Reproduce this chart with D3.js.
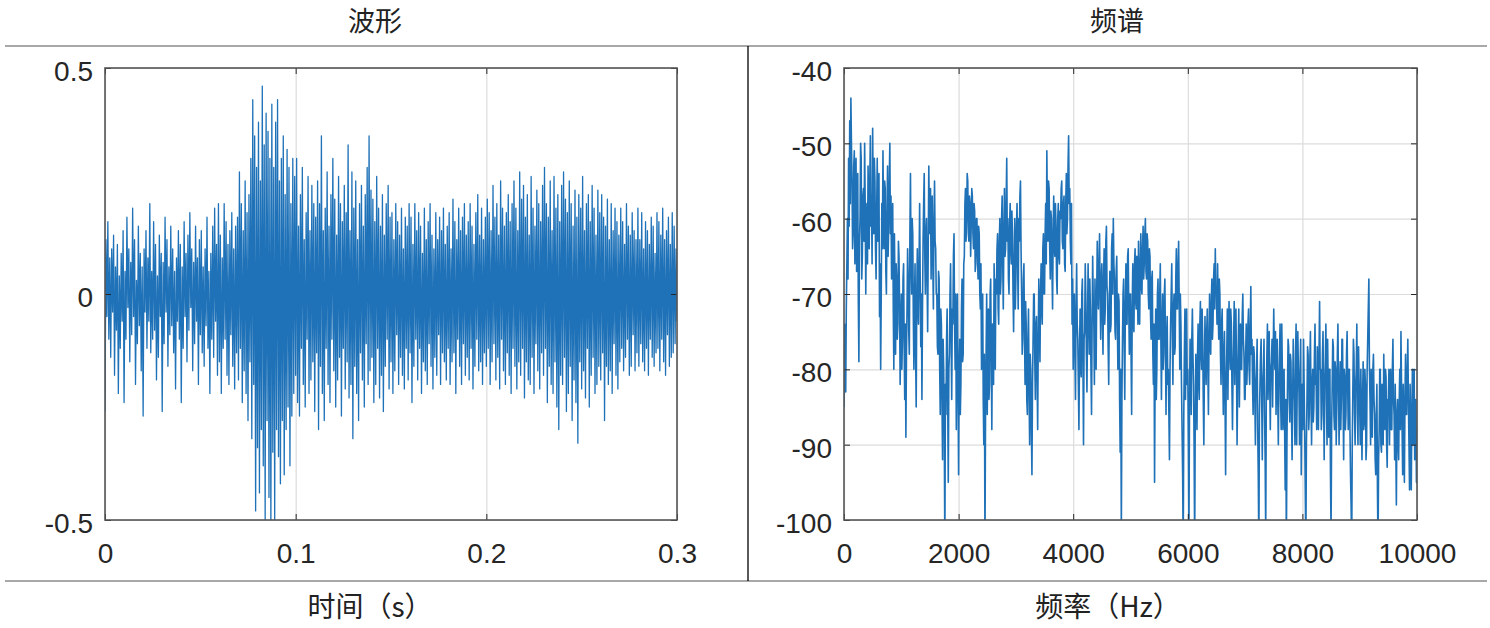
<!DOCTYPE html>
<html>
<head>
<meta charset="utf-8">
<script src="https://cdn.jsdelivr.net/npm/d3@7"></script>
<style>
  html, body { margin: 0; padding: 0; background: #fff; }
  svg { display: block; }
  .tick text { font-family: "Liberation Sans", Arial, sans-serif; }
</style>
</head>
<body>
<svg id="chart" width="1490" height="628"></svg>
<script>
// ---------------- DATA ----------------
const panelTitles = ["波形", "频谱"];
const axisLabels = ["时间（s）", "频率（Hz）"];

// waveform: amplitude samples evenly spaced from 0 to 0.3 s
const waveDuration = 0.3;
const waveValues = [
-.26,.12,-.05,.16,-.1,.08,-.14,.1,-.04,.13,-.18,.06,-.08,.11,-.22,.04,-.12,.09,-.06,.14,
-.24,.05,-.1,.17,-.03,.1,-.15,.07,-.09,.19,-.05,.12,-.2,.03,-.11,.15,-.07,.09,-.17,.06,
-.27,.1,-.04,.14,-.12,.08,-.06,.2,-.13,.05,-.1,.16,-.08,.11,-.19,.04,-.14,.13,-.05,.09,
-.26,.07,-.11,.17,-.04,.12,-.16,.06,-.09,.15,-.07,.1,-.13,.05,-.21,.08,-.06,.14,-.1,.11,
-.24,.06,-.12,.16,-.05,.09,-.15,.13,-.08,.18,-.03,.1,-.17,.07,-.11,.15,-.06,.08,-.2,.12,
-.09,.14,-.13,.06,-.16,.1,-.07,.17,-.12,.05,-.22,.09,-.1,.15,-.14,.19,-.06,.11,-.18,.2,
-.15,.13,-.22,.08,-.12,.2,-.1,.16,-.18,.11,-.2,.14,-.09,.18,-.16,.1,-.21,.15,-.13,.17,
-.19,.27,-.12,.2,-.24,.14,-.17,.25,-.22,.18,-.28,.22,-.15,.3,-.32,.43,-.2,.35,-.48,.28,
-.34,.38,-.44,.25,-.3,.46,-.38,.33,-.5,.4,-.28,.36,-.45,.3,-.52,.42,-.35,.28,-.5,.38,
-.3,.43,-.36,.25,-.42,.3,-.28,.35,-.4,.22,-.3,.32,-.25,.28,-.38,.2,-.27,.3,-.22,.26,
-.18,.3,-.24,.15,-.27,.22,-.12,.28,-.2,.12,-.25,.18,-.1,.26,-.22,.14,-.19,.24,-.15,.2,
-.26,.17,-.13,.25,-.3,.2,-.16,.35,-.22,.14,-.28,.19,-.12,.27,-.2,.15,-.24,.22,-.1,.3,
-.17,.21,-.25,.13,-.19,.26,-.14,.2,-.27,.16,-.12,.24,-.21,.18,-.15,.33,-.23,.14,-.2,.27,
-.32,.19,-.16,.25,-.22,.12,-.28,.2,-.13,.24,-.19,.15,-.25,.22,-.11,.28,-.2,.35,-.17,.23,
-.14,.21,-.24,.16,-.2,.26,-.12,.19,-.23,.15,-.18,.22,-.26,.13,-.16,.2,-.1,.24,-.21,.17,
-.15,.18,-.22,.12,-.17,.2,-.09,.16,-.2,.13,-.14,.19,-.18,.1,-.21,.17,-.12,.15,-.19,.2,
-.13,.17,-.24,.11,-.16,.2,-.1,.14,-.19,.18,-.12,.15,-.22,.09,-.15,.19,-.17,.12,-.2,.16,
-.11,.2,-.16,.13,-.21,.1,-.14,.18,-.18,.12,-.09,.17,-.2,.14,-.13,.19,-.15,.11,-.19,.15,
-.12,.18,-.2,.1,-.15,.21,-.13,.16,-.22,.12,-.1,.19,-.16,.14,-.2,.17,-.11,.2,-.18,.13,
-.14,.16,-.19,.2,-.12,.15,-.21,.11,-.16,.18,-.1,.22,-.17,.13,-.15,.19,-.2,.12,-.13,.17,
-.16,.21,-.12,.18,-.2,.14,-.15,.24,-.11,.17,-.19,.2,-.14,.13,-.21,.25,-.1,.19,-.17,.15,
-.2,.18,-.13,.22,-.18,.16,-.22,.2,-.12,.25,-.16,.19,-.21,.14,-.15,.27,-.18,.21,-.12,.24,
-.23,.17,-.15,.22,-.19,.13,-.2,.26,-.14,.19,-.22,.15,-.11,.23,-.17,.2,-.21,.16,-.13,.24,
-.18,.28,-.12,.2,-.24,.17,-.16,.25,-.2,.14,-.22,.26,-.15,.19,-.25,.22,-.3,.16,-.18,.24,
-.2,.27,-.14,.21,-.26,.18,-.22,.25,-.16,.2,-.28,.15,-.19,.23,-.24,.17,-.33,.22,-.15,.19,
-.21,.26,-.17,.14,-.23,.2,-.12,.22,-.25,.16,-.18,.24,-.14,.19,-.22,.13,-.2,.23,-.16,.18,
-.19,.22,-.13,.17,-.28,.15,-.16,.21,-.2,.12,-.17,.2,-.22,.14,-.11,.19,-.18,.16,-.21,.13,
-.15,.19,-.12,.16,-.17,.11,-.14,.2,-.1,.15,-.18,.13,-.16,.18,-.09,.14,-.17,.12,-.13,.19,
-.16,.12,-.11,.18,-.15,.1,-.17,.16,-.12,.14,-.18,.11,-.1,.17,-.14,.15,-.16,.09,-.13,.18,
-.12,.16,-.17,.13,-.1,.19,-.15,.12,-.18,.14,-.09,.17,-.16,.11,-.14,.18,-.13,.15,-.11,.1,-.06
];

// spectrum: level in dB, evenly spaced from 0 to 10000 Hz (10 Hz apart)
const specMaxFreq = 10000;
const specValues = [
-85,-74,-80,-83,-72,-66,-60,-68,-52,-61,-47,-58,-44,-50,-55,-64,-62,-53,-51,-66,-58,-52,-67,-60,-54,-71,-79,-63,-60,-50,-52,-68,-65,-57,-56,-63,-50,-58,-70,-62,-58,-66,-53,-59,-64,-55,-49,-61,-57,-66,
-48,-57,-62,-52,-55,-64,-68,-59,-52,-63,-60,-54,-73,-66,-80,-70,-58,-64,-51,-60,-64,-55,-56,-67,-70,-60,-53,-65,-61,-55,-50,-62,-57,-68,-66,-58,-72,-80,-62,-70,-78,-66,-68,-76,-74,-63,-65,-72,-82,-75,
-70,-80,-76,-68,-66,-77,-84,-74,-89,-78,-72,-64,-68,-75,-78,-62,-54,-66,-70,-60,-62,-73,-80,-71,-66,-78,-85,-70,-64,-72,-74,-66,-58,-68,-77,-70,-84,-72,-63,-58,-54,-65,-70,-62,-60,-68,-75,-64,-53,-60,
-62,-56,-68,-60,-57,-66,-72,-61,-55,-63,-64,-70,-70,-77,-78,-67,-68,-80,-86,-72,-74,-84,-92,-76,-80,-88,-104,-82,-86,-76,-72,-84,-95,-80,-78,-70,-66,-76,-84,-72,-74,-65,-62,-74,-80,-70,-88,-78,-70,-82,
-94,-80,-76,-86,-82,-72,-68,-79,-78,-66,-65,-58,-56,-63,-60,-54,-55,-62,-63,-57,-58,-65,-61,-56,-57,-62,-64,-58,-59,-67,-66,-60,-60,-65,-68,-61,-62,-70,-72,-66,-80,-74,-70,-84,-90,-78,-104,-86,-78,-70,
-86,-76,-72,-84,-82,-70,-68,-78,-88,-74,-75,-82,-66,-72,-80,-68,-70,-64,-62,-72,-74,-63,-60,-70,-68,-60,-57,-66,-72,-62,-56,-65,-64,-58,-52,-63,-60,-68,-70,-61,-58,-64,-66,-59,-62,-70,-75,-66,-60,-72,
-68,-61,-58,-66,-72,-60,-63,-57,-55,-64,-70,-78,-76,-68,-66,-75,-82,-71,-74,-84,-86,-76,-72,-83,-90,-78,-80,-88,-94,-82,-76,-70,-70,-79,-84,-74,-73,-81,-88,-76,-68,-74,-79,-70,-66,-72,-74,-64,-62,-70,
-70,-62,-58,-66,-51,-60,-63,-55,-56,-64,-68,-59,-60,-67,-72,-62,-57,-64,-65,-58,-61,-68,-70,-60,-58,-65,-66,-59,-60,-56,-55,-63,-64,-58,-57,-66,-67,-58,-54,-62,-60,-53,-49,-58,-56,-63,-66,-58,-74,-68,
-80,-72,-70,-78,-84,-72,-66,-74,-76,-82,-88,-78,-72,-80,-81,-70,-68,-79,-90,-76,-75,-66,-70,-78,-83,-74,-66,-72,-78,-68,-72,-80,-86,-74,-65,-71,-74,-82,-68,-74,-80,-70,-63,-70,-72,-66,-62,-70,-76,-68,
-66,-73,-78,-68,-64,-74,-72,-63,-61,-69,-70,-77,-82,-72,-67,-75,-74,-64,-62,-70,-60,-66,-68,-75,-76,-67,-65,-73,-80,-70,-71,-84,-91,-80,-102,-84,-76,-70,-68,-77,-84,-72,-66,-74,-74,-65,-64,-72,-78,-70,
-70,-78,-86,-72,-66,-74,-75,-66,-64,-71,-72,-65,-68,-74,-63,-70,-74,-66,-62,-69,-70,-64,-61,-68,-66,-62,-60,-67,-68,-62,-63,-70,-72,-64,-65,-73,-76,-68,-67,-78,-82,-74,-95,-80,-72,-84,-80,-70,-68,-76,
-76,-70,-66,-76,-84,-74,-70,-80,-78,-70,-68,-77,-86,-76,-73,-82,-80,-86,-92,-80,-74,-70,-66,-75,-82,-72,-70,-78,-77,-68,-64,-72,-72,-66,-63,-71,-80,-70,-74,-82,-88,-94,-104,-86,-78,-72,-84,-76,-72,-82,
-80,-90,-102,-84,-76,-80,-86,-76,-72,-78,-82,-90,-104,-86,-78,-84,-88,-78,-74,-82,-84,-74,-71,-78,-80,-72,-76,-84,-90,-80,-73,-78,-82,-75,-72,-80,-86,-76,-70,-77,-78,-71,-68,-76,-74,-68,-66,-72,-64,-70,
-70,-74,-66,-72,-76,-68,-70,-78,-82,-74,-72,-80,-86,-78,-75,-84,-94,-82,-78,-72,-84,-76,-71,-78,-80,-72,-74,-82,-88,-80,-76,-71,-82,-76,-72,-80,-90,-82,-77,-72,-85,-78,-74,-80,-80,-73,-70,-76,-78,-84,
-84,-78,-74,-82,-79,-74,-72,-80,-82,-75,-69,-78,-76,-82,-86,-77,-78,-84,-90,-82,-80,-76,-88,-94,-104,-86,-82,-78,-76,-84,-92,-82,-80,-76,-86,-92,-102,-84,-78,-74,-84,-80,-75,-82,-88,-80,-79,-76,-85,-78,
-72,-78,-80,-75,-86,-80,-76,-84,-90,-82,-78,-74,-84,-88,-74,-80,-88,-82,-80,-88,-96,-84,-104,-90,-82,-76,-77,-84,-87,-78,-79,-86,-92,-84,-76,-82,-84,-90,-78,-74,-90,-82,-75,-80,-83,-90,-80,-76,-94,-86,
-82,-88,-76,-82,-88,-96,-104,-90,-84,-77,-78,-88,-86,-79,-75,-84,-90,-82,-80,-87,-85,-78,-74,-82,-82,-88,-77,-80,-88,-78,-71,-80,-80,-88,-86,-78,-75,-84,-92,-82,-79,-74,-84,-90,-76,-82,-89,-80,-80,-94,
-102,-88,-82,-76,-77,-86,-88,-79,-80,-90,-85,-78,-74,-82,-90,-84,-79,-88,-84,-76,-76,-84,-92,-80,-81,-88,-86,-78,-75,-82,-88,-80,-80,-88,-94,-98,-104,-90,-83,-76,-78,-86,-90,-82,-80,-74,-86,-90,-77,-82,
-85,-90,-80,-86,-92,-84,-79,-88,-87,-80,-82,-92,-90,-80,-76,-72,-68,-80,-84,-90,-80,-86,-89,-80,-78,-84,-86,-92,-94,-86,-82,-96,-104,-92,-88,-80,-80,-90,-91,-82,-84,-90,-78,-84,-88,-80,-81,-90,-93,-84,
-84,-80,-90,-82,-80,-88,-88,-80,-76,-84,-86,-92,-82,-90,-98,-86,-84,-90,-92,-84,-80,-88,-75,-82,-88,-94,-82,-88,-95,-84,-78,-86,-86,-80,-76,-84,-90,-96,-82,-88,-96,-86,-80,-90,-86,-80,-92,-86,-84,-95,
-88
];

const waveXTicks = [0, 0.1, 0.2, 0.3];
const waveYTicks = [-0.5, 0, 0.5];
const specXTicks = [0, 2000, 4000, 6000, 8000, 10000];
const specYTicks = [-100, -90, -80, -70, -60, -50, -40];

// ---------------- DRAW ----------------
const svg = d3.select("#chart");
svg.append("rect").attr("width", 1490).attr("height", 628).attr("fill", "#fff");

const LINE_COLOR = "#1f72b8";
const AX_COLOR = "#262626";
const FONT_CJK = "'Noto Sans CJK SC', 'Noto Sans', sans-serif";

const panels = [
  {
    id: "wave",
    x: d3.scaleLinear().domain([0, waveDuration]).range([105, 677]),
    y: d3.scaleLinear().domain([-0.5, 0.5]).range([520, 68]),
    xTicks: waveXTicks, yTicks: waveYTicks,
    data: waveValues.map((v, i) => [i * waveDuration / (waveValues.length - 1), v]),
    title: panelTitles[0], titleX: 375, label: axisLabels[0], labelX: 370, lw: 1.3
  },
  {
    id: "spec",
    x: d3.scaleLinear().domain([0, specMaxFreq]).range([844, 1417]),
    y: d3.scaleLinear().domain([-100, -40]).range([520, 68]),
    xTicks: specXTicks, yTicks: specYTicks,
    data: specValues.map((v, i) => [i * specMaxFreq / (specValues.length - 1), v]),
    title: panelTitles[1], titleX: 1117, label: axisLabels[1], labelX: 1108, lw: 1.6
  }
];

// frame lines
svg.append("line").attr("x1", 5).attr("x2", 1487).attr("y1", 46).attr("y2", 46)
  .attr("stroke", "#a8a8a8").attr("stroke-width", 2);
svg.append("line").attr("x1", 5).attr("x2", 1487).attr("y1", 581).attr("y2", 581)
  .attr("stroke", "#a8a8a8").attr("stroke-width", 2);
svg.append("line").attr("x1", 748).attr("x2", 748).attr("y1", 46).attr("y2", 581)
  .attr("stroke", "#000").attr("stroke-width", 1.3);

panels.forEach(p => {
  const [x0, x1] = p.x.range();
  const [yb, yt] = p.y.range();
  const g = svg.append("g");

  // titles and labels
  svg.append("text").attr("x", p.titleX).attr("y", 31)
    .attr("text-anchor", "middle").attr("font-family", FONT_CJK)
    .attr("font-size", 27).attr("fill", "#222").text(p.title);
  svg.append("text").attr("x", p.labelX).attr("y", 617)
    .attr("text-anchor", "middle").attr("font-family", FONT_CJK)
    .attr("font-size", 28).attr("fill", "#222").text(p.label);

  // grid
  g.append("g").attr("transform", `translate(0,${yb})`)
    .call(d3.axisBottom(p.x).tickValues(p.xTicks).tickSize(-(yb - yt)).tickFormat(""))
    .call(s => s.select(".domain").remove())
    .call(s => s.selectAll("line").attr("stroke", "#dcdcdc").attr("stroke-width", 1.2));
  g.append("g").attr("transform", `translate(${x0},0)`)
    .call(d3.axisLeft(p.y).tickValues(p.yTicks).tickSize(-(x1 - x0)).tickFormat(""))
    .call(s => s.select(".domain").remove())
    .call(s => s.selectAll("line").attr("stroke", "#dcdcdc").attr("stroke-width", 1.2));

  // data line
  const clipId = "clip-" + p.id;
  svg.append("clipPath").attr("id", clipId).append("rect")
    .attr("x", x0).attr("y", yt).attr("width", x1 - x0).attr("height", yb - yt);
  const line = d3.line().x(d => p.x(d[0])).y(d => p.y(d[1]));
  g.append("path").datum(p.data).attr("clip-path", `url(#${clipId})`)
    .attr("d", line).attr("fill", "none").attr("stroke", LINE_COLOR)
    .attr("stroke-width", p.lw).attr("stroke-linejoin", "round");

  // inward ticks on all four sides
  const tickStyle = s => {
    s.select(".domain").remove();
    s.selectAll("line").attr("stroke", AX_COLOR).attr("stroke-width", 1);
  };
  g.append("g").attr("transform", `translate(0,${yb})`)
    .call(d3.axisBottom(p.x).tickValues(p.xTicks).tickSize(-6).tickFormat("")).call(tickStyle);
  g.append("g").attr("transform", `translate(0,${yt})`)
    .call(d3.axisTop(p.x).tickValues(p.xTicks).tickSize(-6).tickFormat("")).call(tickStyle);
  g.append("g").attr("transform", `translate(${x0},0)`)
    .call(d3.axisLeft(p.y).tickValues(p.yTicks).tickSize(-6).tickFormat("")).call(tickStyle);
  g.append("g").attr("transform", `translate(${x1},0)`)
    .call(d3.axisRight(p.y).tickValues(p.yTicks).tickSize(-6).tickFormat("")).call(tickStyle);

  // box
  g.append("rect").attr("x", x0).attr("y", yt).attr("width", x1 - x0).attr("height", yb - yt)
    .attr("fill", "none").attr("stroke", "#555").attr("stroke-width", 1.6);

  // tick labels
  g.append("g").attr("transform", `translate(0,${yb})`)
    .call(d3.axisBottom(p.x).tickValues(p.xTicks).tickSize(0).tickPadding(23).tickFormat(d => String(d)))
    .call(s => s.select(".domain").remove())
    .call(s => s.selectAll("text").attr("font-size", 28).attr("fill", AX_COLOR));
  g.append("g").attr("transform", `translate(${x0},0)`)
    .call(d3.axisLeft(p.y).tickValues(p.yTicks).tickSize(0).tickPadding(12).tickFormat(d => String(d)))
    .call(s => s.select(".domain").remove())
    .call(s => s.selectAll("text").attr("font-size", 28).attr("fill", AX_COLOR).attr("dy", "0.45em"));
});
</script>
</body>
</html>
